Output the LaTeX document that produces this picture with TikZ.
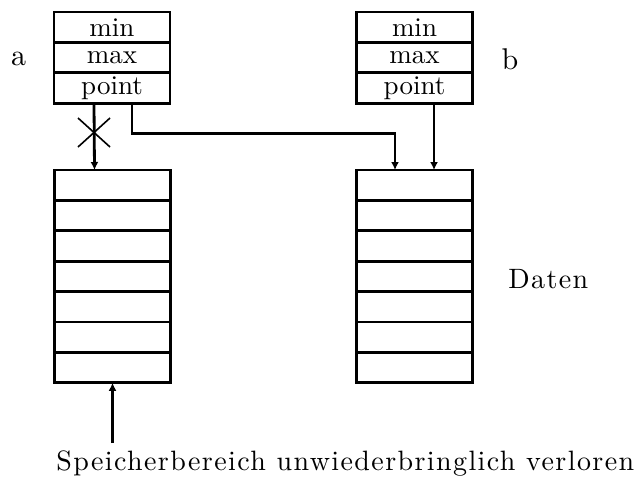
\documentclass[tikz,border=0pt]{standalone}
\usepackage{fontspec}
\setmainfont{Latin Modern Roman}
\newfontfamily\cellfont{lmroman10-regular.otf}
\newfontfamily\spaced{lmroman10-regular.otf}[LetterSpace=5]
\usetikzlibrary{arrows.meta,positioning}
\begin{document}
\begin{tikzpicture}[x=0.5pt,y=-0.5pt,line width=1.4pt,
  cell/.style={draw,minimum width=58pt,minimum height=15.2pt,inner sep=0pt,outer sep=0pt,font=\fontsize{13.5}{15}\cellfont},
  lbl/.style={inner sep=0pt,anchor=base,font=\fontsize{15}{17}\cellfont},
  big/.style={inner sep=0pt,anchor=base west,font=\fontsize{14}{16}\spaced},
  arr/.style={-{Latex[length=4pt,width=4pt]}}]
\useasboundingbox (0,0) rectangle (640,482);
% header a
\node[cell] (amin) at (112,27.2) {min};
\node[cell,below=0pt of amin] (amax) {max};
\node[cell,below=0pt of amax] (apoint) {point};
% header b
\node[cell] (bmin) at (414.5,27.2) {min};
\node[cell,below=0pt of bmin] (bmax) {max};
\node[cell,below=0pt of bmax] (bpoint) {point};
% data a
\node[cell] (a1) at (112.5,185.2) {};
\foreach \i [remember=\i as \j (initially 1)] in {2,...,7}
  \node[cell,below=0pt of a\j] (a\i) {};
% data b
\node[cell] (b1) at (414.5,185.2) {};
\foreach \i [remember=\i as \j (initially 1)] in {2,...,7}
  \node[cell,below=0pt of b\j] (b\i) {};
% labels
\node[lbl] (la) at (18.5,65) {a};
\node[lbl] (lb) at (510,69) {b};
\node[big] (ld) at (507,288) {Daten};
\node[big] (lost) at (55,470) {Speicherbereich unwiederbringlich verloren};
\coordinate (lostarrow) at (112.5,443);
% connectors
\draw[arr] ([xshift=-9pt]apoint.south) -- ([xshift=-9pt]a1.north);
\draw[line width=0.8pt] (78,118) -- (110,147) (110,118) -- (78,147);
\draw[arr] ([xshift=10pt]apoint.south) -- ++(0,30) -| ([xshift=-9.75pt]b1.north);
\draw[arr] ([xshift=9.75pt]bpoint.south) -- ([xshift=9.75pt]b1.north);
\draw[arr] (lostarrow) -- (a7.south);
\end{tikzpicture}
\end{document}
